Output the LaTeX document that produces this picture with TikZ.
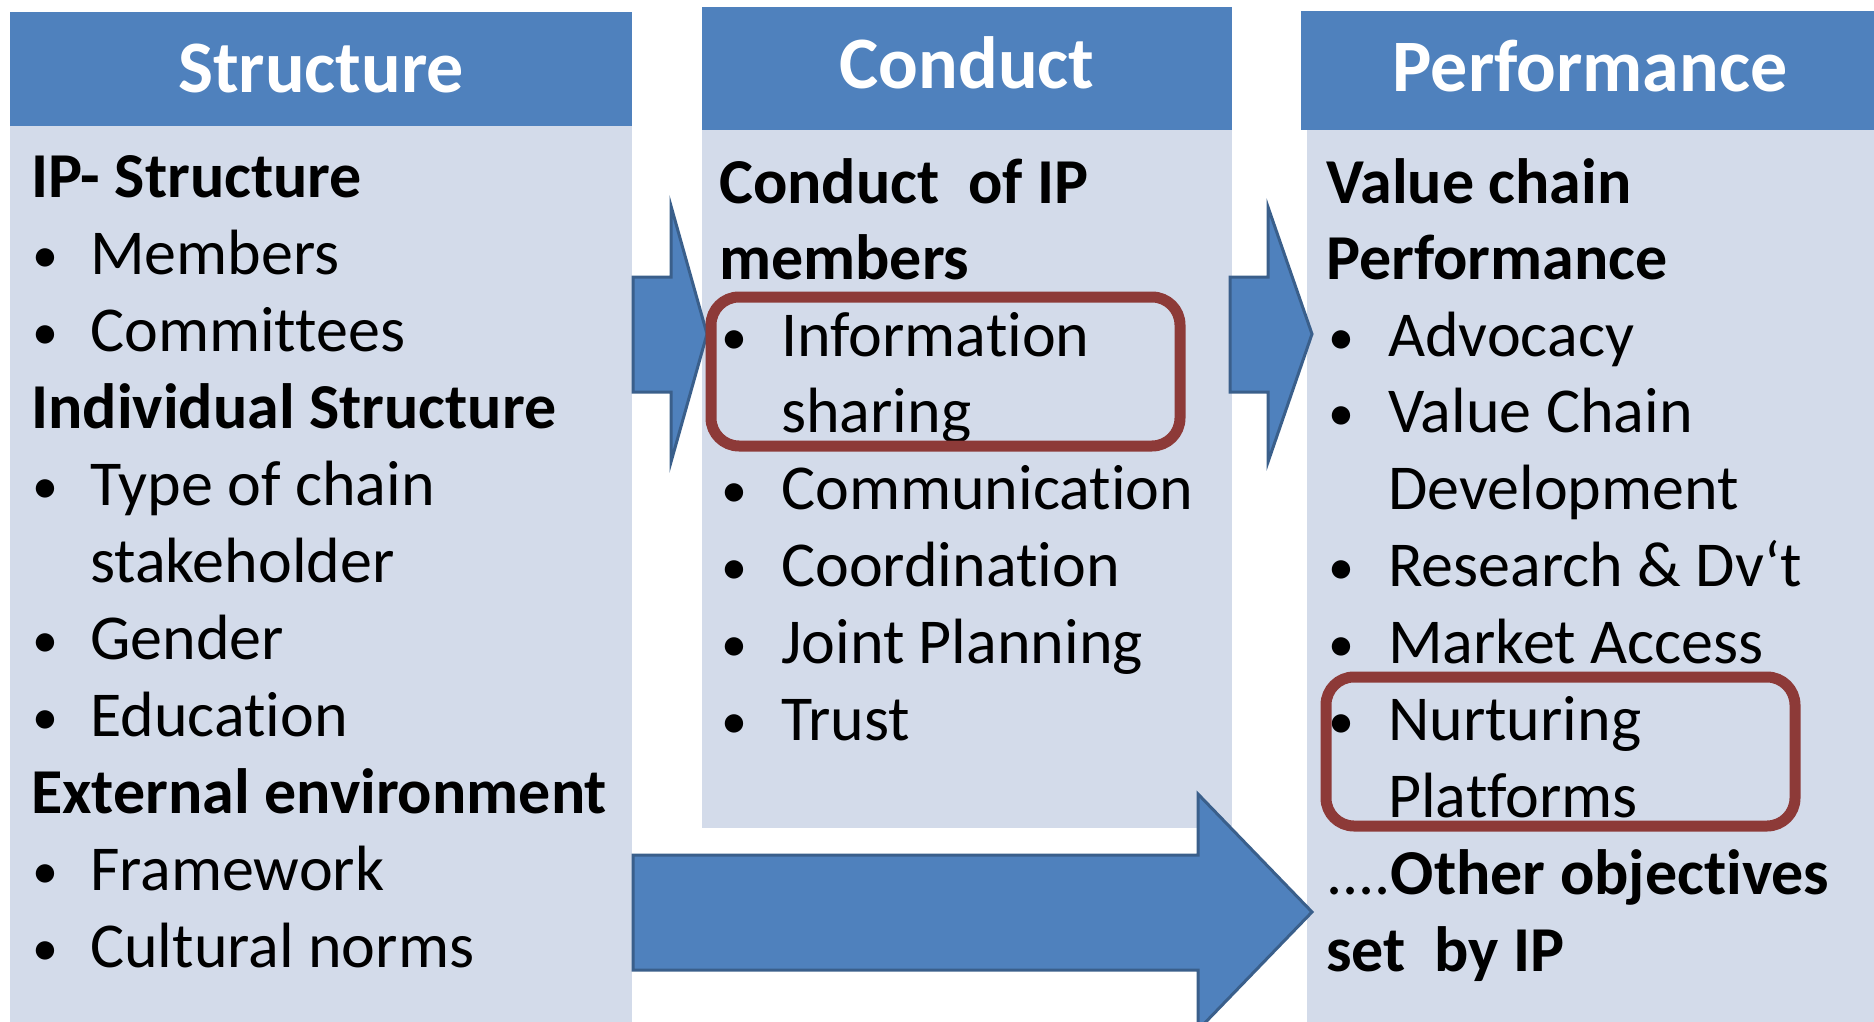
\documentclass[tikz,border=0pt]{standalone}
\usepackage{fontspec}
\setmainfont{Carlito}[Ligatures={NoCommon}]
\definecolor{hdr}{HTML}{4F81BD}
\definecolor{bodyc}{HTML}{D3DBEA}
\definecolor{arrb}{HTML}{3A5F8B}
\definecolor{redb}{HTML}{8D3A38}
\tikzset{
  txt/.style={anchor=base west, inner sep=0pt, font=\fontsize{64}{76}\selectfont},
  btxt/.style={anchor=base west, inner sep=0pt, font=\fontsize{64}{76}\selectfont\bfseries},
  bultxt/.style={anchor=base west, inner sep=0pt, font=\fontsize{52}{76}\selectfont},
  htxt/.style={anchor=base, inner sep=0pt, text=white, font=\fontsize{74}{88}\selectfont\bfseries},
  hdrfill/.style={fill=hdr},
  bodyfill/.style={fill=bodyc},
  blockarrow/.style={fill=hdr, draw=arrb, line width=3pt, line join=miter},
  hlbox/.style={draw=redb, line width=11pt, rounded corners=28pt},
}
\begin{document}
\begin{tikzpicture}[x=1pt,y=-1pt]
\useasboundingbox (0,0) rectangle (1874,1022);
% column backgrounds
\fill[bodyfill] (10,126) rectangle (632,1022);
\fill[hdrfill] (10,12) rectangle (632,126);
\fill[bodyfill] (702,130) rectangle (1232,828);
\fill[hdrfill] (702,7) rectangle (1232,130);
\fill[bodyfill] (1307,130) rectangle (1874,1022);
\fill[hdrfill] (1301,11) rectangle (1874,130);
% headers
\node[htxt] (hS) at (321,93) {Structure};
\node[htxt] (hC) at (967,89) {Conduct};
\node[htxt] (hP) at (1590,92) {Performance};
% Structure column
\node[btxt] (s1) at (31,197) {IP- Structure};
\node[bultxt] (s2b) at (32,272) {•};
\node[txt] (s2) at (90,274) {Members};
\node[bultxt] (s3b) at (32,349) {•};
\node[txt] (s3) at (90,351) {Committees};
\node[btxt] (s4) at (31,428) {Individual Structure};
\node[bultxt] (s5b) at (32,503) {•};
\node[txt] (s5) at (90,505) {Type of chain};
\node[txt] (s6) at (90,582) {stakeholder};
\node[bultxt] (s7b) at (32,657) {•};
\node[txt] (s7) at (90,659) {Gender};
\node[bultxt] (s8b) at (32,734) {•};
\node[txt] (s8) at (90,736) {Education};
\node[btxt] (s9) at (31,813) {External environment};
\node[bultxt] (s10b) at (32,888) {•};
\node[txt] (s10) at (90,890) {Framework};
\node[bultxt] (s11b) at (32,965) {•};
\node[txt] (s11) at (90,967) {Cultural norms};
% Conduct column
\node[btxt] (c1) at (719,203) {Conduct\ \ of IP};
\node[btxt] (c2) at (719,279) {members};
\node[bultxt] (c3b) at (721,354) {•};
\node[txt] (c3) at (781,356) {Information};
\node[txt] (c4) at (781,432) {sharing};
\node[bultxt] (c5b) at (721,507) {•};
\node[txt] (c5) at (781,509) {Communication};
\node[bultxt] (c6b) at (721,584) {•};
\node[txt] (c6) at (781,586) {Coordination};
\node[bultxt] (c7b) at (721,661) {•};
\node[txt] (c7) at (781,663) {Joint Planning};
\node[bultxt] (c8b) at (721,738) {•};
\node[txt] (c8) at (781,740) {Trust};
% Performance column
\node[btxt] (p1) at (1326,203) {Value chain};
\node[btxt] (p2) at (1326,279) {Performance};
\node[bultxt] (p3b) at (1328,354) {•};
\node[txt] (p3) at (1388,356) {Advocacy};
\node[bultxt] (p4b) at (1328,430) {•};
\node[txt] (p4) at (1388,432) {Value Chain};
\node[txt] (p5) at (1388,509) {Development};
\node[bultxt] (p6b) at (1328,584) {•};
\node[txt] (p6) at (1388,586) {Research \& Dv‘t};
\node[bultxt] (p7b) at (1328,661) {•};
\node[txt] (p7) at (1388,663) {Market Access};
\node[bultxt] (p8b) at (1328,738) {•};
\node[txt] (p8) at (1388,740) {Nurturing};
\node[txt] (p9) at (1388,817) {Platforms};
\node[txt] (p10) at (1326,894) {....\textbf{Other objectives}};
\node[btxt] (p11) at (1326,971) {set\ \ by IP};
% block arrows
\draw[blockarrow] (633,277) -- (671,277) -- (671,206) -- (707,334) -- (671,462) -- (671,392) -- (633,392) -- cycle;
\draw[blockarrow] (1230,277) -- (1268,277) -- (1268,207) -- (1312,334) -- (1268,462) -- (1268,392) -- (1230,392) -- cycle;
\draw[blockarrow] (633,855) -- (1198,855) -- (1198,794) -- (1312,912) -- (1198,1030) -- (1198,970) -- (633,970) -- cycle;
% highlight boxes
\draw[hlbox] (711,297) rectangle (1180,446);
\draw[hlbox] (1326,677) rectangle (1795,826);
\end{tikzpicture}
\end{document}
